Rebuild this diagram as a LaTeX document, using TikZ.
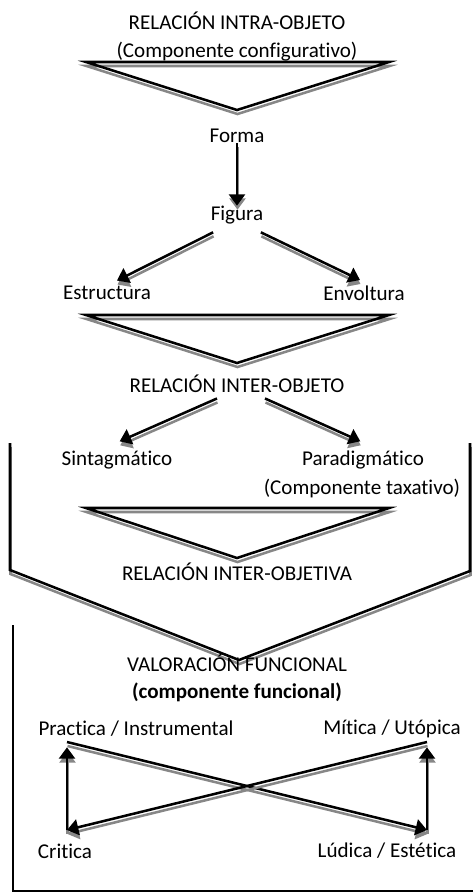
\documentclass[tikz,border=0pt]{standalone}
\usepackage{fontspec}
\setmainfont{Carlito}[Ligatures=NoCommon]
\usetikzlibrary{arrows.meta}
\definecolor{shadowgray}{RGB}{135,135,135}

\tikzset{
  lbl/.style={font=\fontsize{15.8}{19}\selectfont,inner sep=0pt},
  ln/.style={line width=1.9pt},
  arr/.style={line width=1.9pt,-{Triangle[length=8.5pt,width=12pt]}},
  shd/.style={draw=shadowgray,transform canvas={shift={(0.5,4)}}},
}

\begin{document}
\begin{tikzpicture}[x=0.75pt,y=-0.75pt]
\useasboundingbox (0,0) rectangle (473,893);

%titulo
\node[lbl] (intra) at (237,21) {RELACIÓN INTRA-OBJETO};
\node[lbl] (config) at (237,52) {(Componente configurativo)};

%triangulo 1
\draw[ln,shd] (86,62) -- (389,62) -- (237,110) -- cycle;
\draw[ln] (86,62) -- (389,62) -- (237,110) -- cycle;

%forma -> figura
\node[lbl] (forma) at (237,136) {Forma};
\node[lbl] (figura) at (237,215) {Figura};
\draw[arr,shd] (forma) -- (figura);
\draw[arr] (forma) -- (figura);

%estructura, envoltura
\node[lbl] (estructura) at (107,293) {Estructura};
\node[lbl] (envoltura) at (364,293) {Envoltura};
\draw[arr,shd] ([xshift=2pt,yshift=-6pt]figura.south west) -- ([xshift=7.5pt,yshift=4pt]estructura.north);
\draw[arr] ([xshift=2pt,yshift=-6pt]figura.south west) -- ([xshift=7.5pt,yshift=4pt]estructura.north);
\draw[arr,shd] ([xshift=-2pt,yshift=-6pt]figura.south east) -- ([xshift=-3pt,yshift=4pt]envoltura.north);
\draw[arr] ([xshift=-2pt,yshift=-6pt]figura.south east) -- ([xshift=-3pt,yshift=4pt]envoltura.north);

%triangulo 2
\draw[ln,shd] (86,315) -- (389,315) -- (237,363) -- cycle;
\draw[ln] (86,315) -- (389,315) -- (237,363) -- cycle;

%inter-objeto
\node[lbl] (inter) at (237,384) {RELACIÓN INTER-OBJETO};
\node[lbl] (sint) at (117,460) {Sintagmático};
\node[lbl] (para) at (363,460) {Paradigmático};
\node[lbl] (taxa) at (362,488) {(Componente taxativo)};
\draw[arr,shd] ([xshift=-15pt,yshift=-4pt]inter.south) -- ([xshift=2pt,yshift=7pt]sint.north);
\draw[arr] ([xshift=-15pt,yshift=-4pt]inter.south) -- ([xshift=2pt,yshift=7pt]sint.north);
\draw[arr,shd] ([xshift=21pt,yshift=-4pt]inter.south) -- ([xshift=-2pt,yshift=7pt]para.north);
\draw[arr] ([xshift=21pt,yshift=-4pt]inter.south) -- ([xshift=-2pt,yshift=7pt]para.north);

%triangulo 3
\draw[ln,shd] (86,508) -- (389,508) -- (237,558) -- cycle;
\draw[ln] (86,508) -- (389,508) -- (237,558) -- cycle;
\node[lbl] (objetiva) at (237,572) {RELACIÓN INTER-OBJETIVA};

%V grande
\draw[ln,shd] (10,443) -- (10,570) -- (239,660) -- (470,571) -- (470,443);
\draw[ln] (10,443) -- (10,570) -- (239,660) -- (470,571) -- (470,443);

%marco inferior
\draw[line width=1.5pt] (13,625) -- (13,891) -- (473,891);

%valoracion
\node[lbl] (valor) at (237,663) {VALORACIÓN FUNCIONAL};
\node[lbl,font=\fontsize{15.8}{19}\selectfont\bfseries] (funcional) at (237,692) {(componente funcional)};
\node[lbl] (practica) at (136,729) {Practica / Instrumental};
\node[lbl] (mitica) at (392,729) {Mítica / Utópica};
\node[lbl] (critica) at (65,851) {Critica};
\node[lbl] (ludica) at (387,851) {Lúdica / Estética};

%cruz
\coordinate (pp) at (67,742);
\coordinate (mm) at (427,742);
\coordinate (cc) at (67,830);
\coordinate (ll) at (427,830);
\draw[arr,shd] (cc) -- ([yshift=-4pt]pp);
\draw[arr] (cc) -- ([yshift=-4pt]pp);
\draw[arr,shd] (pp) -- (ll);
\draw[arr] (pp) -- (ll);
\draw[arr,shd] (ll) -- ([yshift=-4pt]mm);
\draw[arr] (ll) -- ([yshift=-4pt]mm);
\draw[arr,shd] (mm) -- (cc);
\draw[arr] (mm) -- (cc);
\end{tikzpicture}
\end{document}
